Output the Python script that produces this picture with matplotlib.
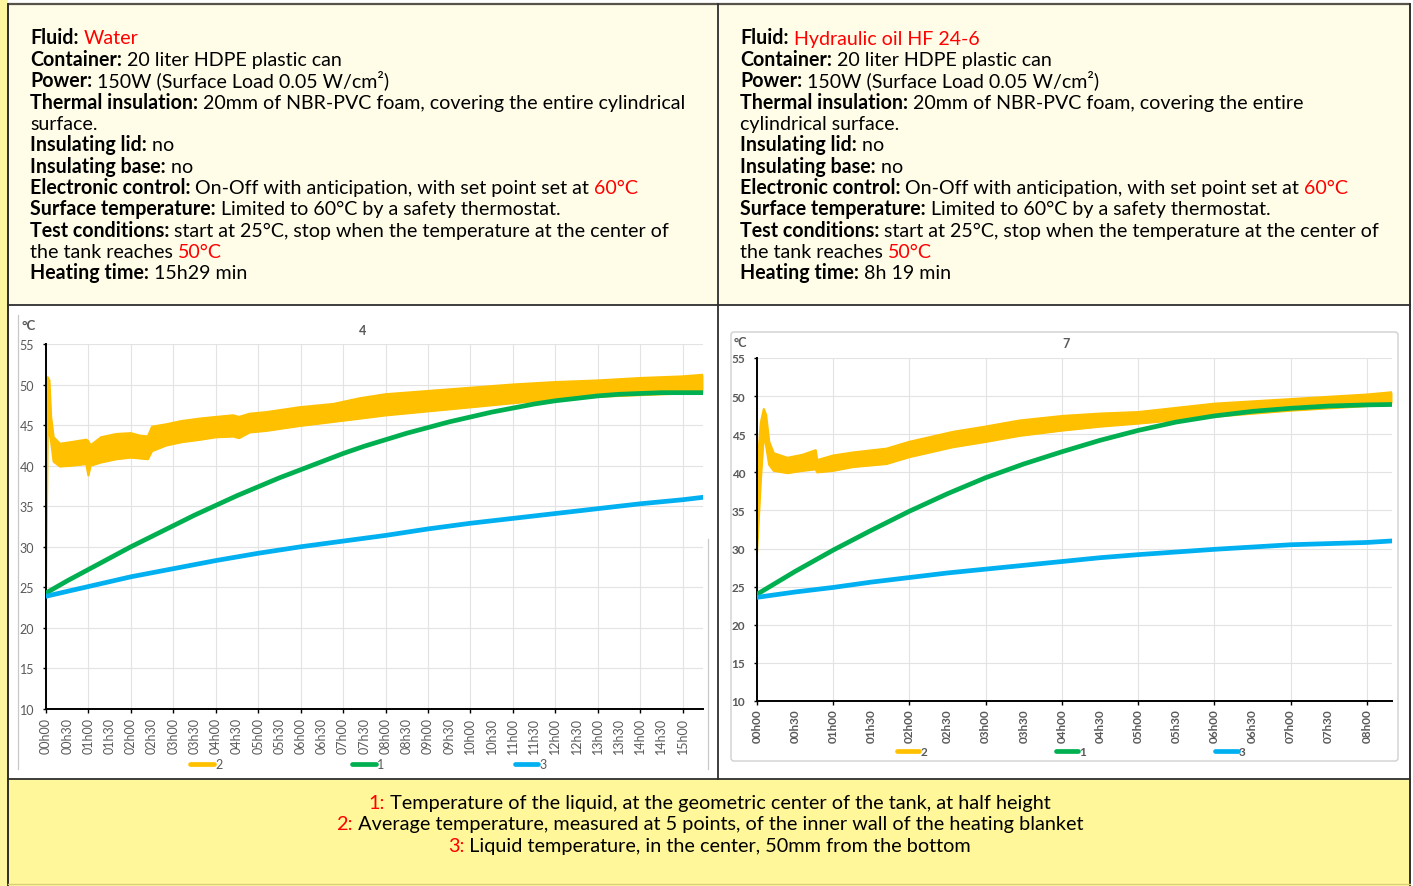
import matplotlib
matplotlib.use('Agg')
import matplotlib.pyplot as plt
from matplotlib.patches import Rectangle, FancyBboxPatch
from matplotlib.lines import Line2D

W, H = 1413, 887
plt.rcParams['font.family'] = ['Lato', 'DejaVu Sans']

# ---------------- data ----------------
# Left test: water, 15h29
water_hours = [0, 0.5, 1, 1.5, 2, 2.5, 3, 3.5, 4, 4.5, 5, 5.5, 6, 6.5, 7, 7.5, 8, 8.5, 9, 9.5,
               10, 10.5, 11, 11.5, 12, 12.5, 13, 13.5, 14, 14.5, 15, 15.48]
water_s1 = [24.3, 25.8, 27.2, 28.6, 30.0, 31.3, 32.6, 33.9, 35.1, 36.3, 37.4, 38.5, 39.5, 40.5,
            41.5, 42.4, 43.2, 44.0, 44.7, 45.4, 46.0, 46.6, 47.1, 47.6, 48.0, 48.3, 48.6, 48.8,
            48.9, 49.0, 49.0, 49.0]
water_s3 = [23.9, 24.5, 25.1, 25.7, 26.3, 26.8, 27.3, 27.8, 28.3, 28.75, 29.2, 29.6, 30.0, 30.35,
            30.7, 31.05, 31.4, 31.8, 32.2, 32.55, 32.9, 33.2, 33.5, 33.8, 34.1, 34.4, 34.7, 35.0,
            35.3, 35.55, 35.8, 36.1]
water_s2_hours = [0.00, 0.04, 0.08, 0.12, 0.18, 0.33, 0.60, 0.95, 1.00, 1.05, 1.30, 1.66, 2.00, 2.21,
                  2.40, 2.50, 2.84, 3.20, 3.63, 4.00, 4.41, 4.55, 4.80, 5.20, 5.98, 6.77, 7.39, 8.00,
                  9.00, 10.00, 11.00, 12.00, 13.00, 14.00, 15.00, 15.48]
water_s2_low = [25.4, 44.0, 44.0, 43.0, 40.5, 39.9, 40.0, 40.2, 38.8, 40.0, 40.4, 40.8, 41.0, 40.9,
                40.8, 41.8, 42.5, 42.9, 43.2, 43.5, 43.6, 43.4, 44.1, 44.3, 44.9, 45.4, 45.8, 46.2,
                46.7, 47.2, 47.7, 48.2, 48.5, 48.7, 48.9, 49.0]
water_s2_high = [47.0, 50.9, 50.5, 46.0, 43.5, 42.7, 42.9, 43.2, 43.0, 42.5, 43.5, 43.9, 44.0, 43.7,
                 43.6, 44.8, 45.1, 45.5, 45.8, 46.0, 46.2, 46.0, 46.4, 46.6, 47.2, 47.6, 48.3, 48.8,
                 49.2, 49.6, 50.0, 50.3, 50.5, 50.8, 51.0, 51.2]

# Right test: hydraulic oil, 8h19
oil_hours = [0, 0.5, 1, 1.5, 2, 2.5, 3, 3.5, 4, 4.5, 5, 5.5, 6, 6.5, 7, 7.5, 8, 8.33]
oil_s1 = [24.0, 27.0, 29.8, 32.4, 34.9, 37.2, 39.3, 41.1, 42.7, 44.2, 45.5, 46.6, 47.4, 48.0,
          48.4, 48.7, 48.85, 48.9]
oil_s3 = [23.6, 24.3, 24.9, 25.6, 26.2, 26.8, 27.3, 27.8, 28.3, 28.8, 29.2, 29.55, 29.9, 30.2,
          30.5, 30.65, 30.8, 31.0]
oil_s2_hours = [0.00, 0.05, 0.09, 0.12, 0.16, 0.22, 0.40, 0.60, 0.77, 0.79, 1.00, 1.26, 1.70, 2.00,
                2.57, 3.00, 3.45, 4.02, 4.50, 5.00, 6.00, 7.00, 8.00, 8.33]
oil_s2_low = [29.5, 39.0, 45.0, 43.5, 41.0, 40.2, 39.9, 40.2, 40.4, 40.0, 40.2, 40.7, 41.1, 42.0,
              43.3, 44.0, 44.8, 45.5, 46.0, 46.4, 47.3, 48.1, 48.7, 49.1]
oil_s2_high = [40.0, 46.5, 48.3, 47.5, 44.0, 42.5, 41.9, 42.3, 42.9, 41.6, 42.2, 42.6, 43.1, 44.0,
               45.3, 46.0, 46.8, 47.4, 47.7, 47.9, 49.0, 49.6, 50.2, 50.5]

y_ticks = [10, 15, 20, 25, 30, 35, 40, 45, 50, 55]
legend_labels = ['2', '1', '3']
titles = ['4', '7']

left_lines = [
    [("Fluid:", True, 'k'), (" ", False, 'k'), ("Water", False, '#FF0000')],
    [("Container:", True, 'k'), (" 20 liter HDPE plastic can", False, 'k')],
    [("Power:", True, 'k'), (" 150W (Surface Load 0.05 W/cm²)", False, 'k')],
    [("Thermal insulation:", True, 'k'), (" 20mm of NBR-PVC foam, covering the entire cylindrical", False, 'k')],
    [("surface.", False, 'k')],
    [("Insulating lid:", True, 'k'), (" no", False, 'k')],
    [("Insulating base:", True, 'k'), (" no", False, 'k')],
    [("Electronic control:", True, 'k'), (" On-Off with anticipation, with set point set at ", False, 'k'), ("60°C", False, '#FF0000')],
    [("Surface temperature:", True, 'k'), (" Limited to 60°C by a safety thermostat.", False, 'k')],
    [("Test conditions:", True, 'k'), (" start at 25°C, stop when the temperature at the center of", False, 'k')],
    [("the tank reaches ", False, 'k'), ("50°C", False, '#FF0000')],
    [("Heating time:", True, 'k'), (" 15h29 min", False, 'k')],
]
right_lines = [
    [("Fluid:", True, 'k'), (" ", False, 'k'), ("Hydraulic oil HF 24-6", False, '#FF0000')],
    [("Container:", True, 'k'), (" 20 liter HDPE plastic can", False, 'k')],
    [("Power:", True, 'k'), (" 150W (Surface Load 0.05 W/cm²)", False, 'k')],
    [("Thermal insulation:", True, 'k'), (" 20mm of NBR-PVC foam, covering the entire", False, 'k')],
    [("cylindrical surface.", False, 'k')],
    [("Insulating lid:", True, 'k'), (" no", False, 'k')],
    [("Insulating base:", True, 'k'), (" no", False, 'k')],
    [("Electronic control:", True, 'k'), (" On-Off with anticipation, with set point set at ", False, 'k'), ("60°C", False, '#FF0000')],
    [("Surface temperature:", True, 'k'), (" Limited to 60°C by a safety thermostat.", False, 'k')],
    [("Test conditions:", True, 'k'), (" start at 25°C, stop when the temperature at the center of", False, 'k')],
    [("the tank reaches ", False, 'k'), ("50°C", False, '#FF0000')],
    [("Heating time:", True, 'k'), (" 8h 19 min", False, 'k')],
]
footer_lines = [
    [("1:", False, '#FF0000'), (" Temperature of the liquid, at the geometric center of the tank, at half height", False, 'k')],
    [("2:", False, '#FF0000'), (" Average temperature, measured at 5 points, of the inner wall of the heating blanket", False, 'k')],
    [("3:", False, '#FF0000'), (" Liquid temperature, in the center, 50mm from the bottom", False, 'k')],
]

C_YEL, C_GRN, C_BLU = '#FFC000', '#00B050', '#00B0F0'
GRAY_TXT = '#595959'

# ---------------- figure & background ----------------
fig = plt.figure(figsize=(W / 100, H / 100), dpi=100)
fig.patch.set_facecolor('white')
bg = fig.add_axes([0, 0, 1, 1], zorder=0)
bg.set_xlim(0, W)
bg.set_ylim(H, 0)
bg.axis('off')

bg.add_patch(Rectangle((0, 0), 8, H, color='#FFF7A0', lw=0))
bg.add_patch(Rectangle((8, 5), 1402, 301, color='#FFFDE8', lw=0))
bg.add_patch(Rectangle((8, 780), 1402, 107, color='#FFF799', lw=0))

LC = '#2e2e2e'
bg.plot([8, 1410], [5, 5], color='#57534a', lw=1.6, solid_capstyle='butt')
bg.plot([8, 8], [5, H], color=LC, lw=1.4)
bg.plot([1410, 1410], [5, H], color=LC, lw=1.4)
bg.plot([8, 1410], [306, 306], color=LC, lw=1.3)
bg.plot([718, 718], [5, 780], color=LC, lw=1.3)
bg.plot([8, 1410], [780, 780], color=LC, lw=1.3)
bg.plot([8, 1410], [885.5, 885.5], color='#D9CF7A', lw=1.0)

# chart frames
bg.plot([18, 18], [316, 770], color='#C8C8C8', lw=0.9)
bg.plot([708, 708], [540, 770], color='#C8C8C8', lw=0.9)
bg.add_patch(FancyBboxPatch((731, 333), 667, 429, boxstyle='round,pad=0,rounding_size=3',
                            fc='none', ec='#D0D0D0', lw=1.0))

renderer = fig.canvas.get_renderer()


def text_w(s, size, bold):
    t = bg.text(0, 0, s + '|', fontsize=size, fontweight='bold' if bold else 'normal')
    w1 = t.get_window_extent(renderer).width
    t.remove()
    t = bg.text(0, 0, '|', fontsize=size, fontweight='bold' if bold else 'normal')
    w2 = t.get_window_extent(renderer).width
    t.remove()
    return w1 - w2


def rich(x, y, parts, size):
    for txt, bold, col in parts:
        bg.text(x, y, txt, fontsize=size, fontweight='bold' if bold else 'normal',
                color=col, va='baseline', ha='left')
        x += text_w(txt, size, bold)


def line_w(parts, size):
    return sum(text_w(t, size, b) for t, b, c in parts)


# fit header font to reference line width
trial = 12.0
fs = trial * 653.0 / line_w(left_lines[3], trial)
fs_foot = trial * 745.0 / line_w(footer_lines[1], trial)

base0, step = 44.5, 21.36
for i, parts in enumerate(left_lines):
    rich(30, base0 + i * step, parts, fs)
for i, parts in enumerate(right_lines):
    rich(740, base0 + i * step, parts, fs)
for i, parts in enumerate(footer_lines):
    wtot = line_w(parts, fs_foot)
    rich(709.5 - wtot / 2, 809 + i * 21.4, parts, fs_foot)


# ---------------- charts ----------------
def hlabel(h):
    hh = int(h)
    mm = int(round((h - hh) * 60))
    return f"{hh:02d}h{mm:02d}"


def make_chart(rect, xmax, n_hours, hrs, s1, s3, s2h, s2lo, s2hi, bold, lsize, title, tpos, cpos,
               legy, legx, colsp):
    ax = fig.add_axes(rect, zorder=2)
    ax.set_facecolor('none')
    ax.set_xlim(0, xmax)
    ax.set_ylim(10, 55)
    ax.fill_between(s2h, s2lo, s2hi, color=C_YEL, lw=0, zorder=2)
    ax.plot(s2h, s2lo, color=C_YEL, lw=1.6, zorder=2, solid_joinstyle='round')
    ax.plot(s2h, s2hi, color=C_YEL, lw=1.6, zorder=2, solid_joinstyle='round')
    ax.plot(hrs, s1, color=C_GRN, lw=3.4, zorder=3, solid_capstyle='round', solid_joinstyle='round')
    ax.plot(hrs, s3, color=C_BLU, lw=3.4, zorder=4, solid_capstyle='round', solid_joinstyle='round')

    wt = 'bold' if bold else 'normal'
    major = list(range(0, n_hours + 1))
    minor = [h + 0.5 for h in range(0, n_hours)]
    ax.set_xticks(major)
    ax.set_xticklabels([hlabel(h) for h in major], fontweight=wt)
    ax.set_xticks(minor, minor=True)
    ax.set_xticklabels([hlabel(h) for h in minor], minor=True, fontweight=wt)
    ax.set_yticks(y_ticks)
    ax.set_yticklabels([str(v) for v in y_ticks], fontweight=wt)
    ax.tick_params(axis='x', which='major', length=3, width=1, pad=2.5, labelsize=lsize,
                   labelcolor=GRAY_TXT, labelrotation=90)
    ax.tick_params(axis='x', which='minor', length=0, pad=5.5, labelsize=lsize,
                   labelcolor=GRAY_TXT, labelrotation=90)
    ax.tick_params(axis='y', length=2.5, width=1, pad=6, labelsize=lsize, labelcolor=GRAY_TXT)
    ax.grid(True, which='major', color='#E3E3E3', lw=0.8)
    ax.set_axisbelow(True)
    for s in ['top', 'right']:
        ax.spines[s].set_visible(False)
    for s in ['left', 'bottom']:
        ax.spines[s].set_linewidth(1.4)
        ax.spines[s].set_color('black')
    bg.text(tpos[0], tpos[1], title, fontsize=9, fontweight='bold', color=GRAY_TXT,
            ha='center', va='center')
    bg.text(cpos[0], cpos[1], '°C', fontsize=lsize + 0.5, fontweight='bold', color=GRAY_TXT,
            ha='left', va='center')
    handles = [Line2D([], [], color=C_YEL, lw=3.4, solid_capstyle='round'),
               Line2D([], [], color=C_GRN, lw=3.4, solid_capstyle='round'),
               Line2D([], [], color=C_BLU, lw=3.4, solid_capstyle='round')]
    leg = fig.legend(handles, legend_labels, loc='center left',
                     bbox_to_anchor=(legx / W, 1 - legy / H), ncol=3, frameon=False,
                     fontsize=lsize, handlelength=1.9, handletextpad=0.1,
                     columnspacing=colsp, borderpad=0, borderaxespad=0)
    for t in leg.get_texts():
        t.set_color(GRAY_TXT)
        t.set_fontweight(wt)
    return ax


make_chart([46 / W, 1 - 710 / H, (703 - 46) / W, (710 - 345) / H], 15.48, 15,
           water_hours, water_s1, water_s3, water_s2_hours, water_s2_low, water_s2_high,
           False, 9.0, titles[0], (363, 331), (21, 326), 765, 190, 10.4)
make_chart([757 / W, 1 - 702 / H, (1392 - 757) / W, (702 - 359) / H], 8.33, 8,
           oil_hours, oil_s1, oil_s3, oil_s2_hours, oil_s2_low, oil_s2_high,
           True, 8.5, titles[1], (1066, 344), (734, 343), 753, 897, 10.9)

fig.savefig('out.png', dpi=100)
